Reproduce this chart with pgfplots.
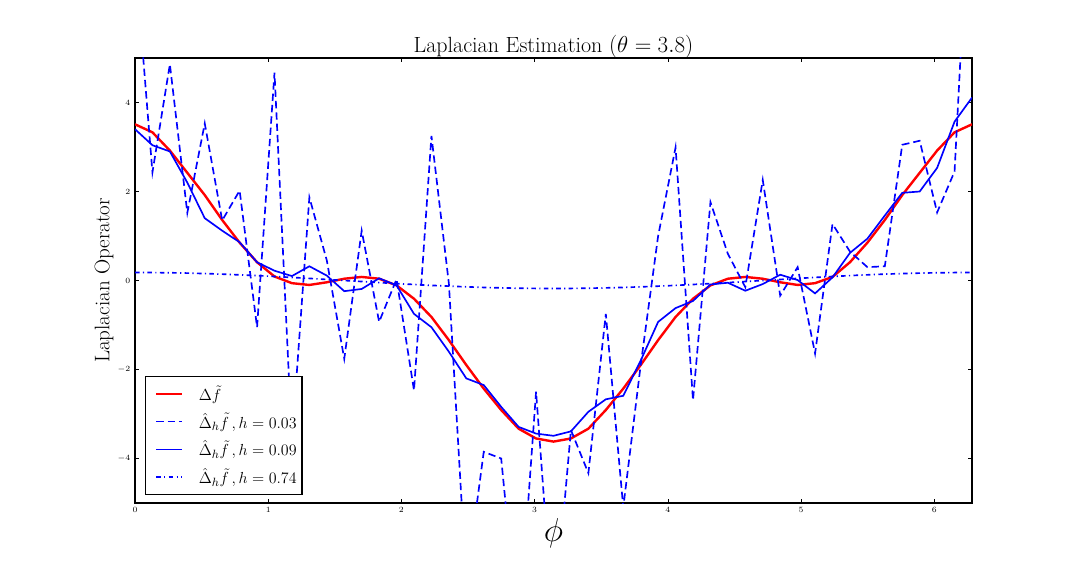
\documentclass[border=0pt]{standalone}
\usepackage{pgfplots}
\pgfplotsset{compat=1.18}
\usepackage{pgfplotstable}
\pgfplotstableread{
x r d s c
0.0000 3.51 7.3 3.40 0.180
0.1309 3.33 2.43 3.04 0.178
0.2618 2.92 4.86 2.90 0.174
0.3927 2.42 1.52 2.20 0.166
0.5236 1.92 3.53 1.40 0.156
0.6545 1.36 1.35 1.12 0.143
0.7854 0.85 2.02 0.86 0.127
0.9163 0.41 -1.05 0.41 0.110
1.0472 0.09 4.67 0.22 0.090
1.1781 -0.06 -3.6 0.10 0.069
1.3090 -0.10 1.87 0.32 0.047
1.4399 -0.04 0.45 0.11 0.023
1.5708 0.04 -1.76 -0.24 0.000
1.7017 0.08 1.12 -0.19 -0.023
1.8326 0.04 -0.93 0.05 -0.047
1.9635 -0.11 0.03 -0.11 -0.069
2.0944 -0.41 -2.47 -0.75 -0.090
2.2253 -0.82 3.25 -1.05 -0.110
2.3562 -1.34 -0.07 -1.60 -0.127
2.4871 -1.90 -6.8 -2.20 -0.143
2.6180 -2.43 -3.85 -2.35 -0.156
2.7489 -2.91 -4.00 -2.84 -0.166
2.8798 -3.33 -8.0 -3.29 -0.174
3.0107 -3.55 -2.50 -3.44 -0.178
3.1416 -3.62 -7.8 -3.49 -0.180
3.2725 -3.55 -3.36 -3.39 -0.178
3.4034 -3.33 -4.33 -2.95 -0.174
3.5343 -2.91 -0.75 -2.67 -0.166
3.6652 -2.43 -5.1 -2.59 -0.156
3.7961 -1.90 -1.9 -1.80 -0.143
3.9270 -1.34 1.00 -0.93 -0.127
4.0579 -0.82 2.99 -0.62 -0.110
4.1888 -0.41 -2.69 -0.46 -0.090
4.3197 -0.11 1.76 -0.09 -0.069
4.4506 0.04 0.60 -0.05 -0.047
4.5815 0.08 -0.15 -0.23 -0.023
4.7124 0.04 2.26 -0.08 0.000
4.8433 -0.04 -0.34 0.13 0.023
4.9742 -0.10 0.30 0.01 0.047
5.1051 -0.06 -1.64 -0.29 0.069
5.2360 0.08 1.27 0.07 0.090
5.3669 0.41 0.65 0.62 0.110
5.4978 0.85 0.30 0.94 0.127
5.6287 1.36 0.32 1.46 0.143
5.7596 1.92 3.05 1.97 0.156
5.8905 2.42 3.14 2.00 0.166
6.0214 2.92 1.53 2.53 0.174
6.1523 3.33 2.45 3.57 0.178
6.2832 3.51 10.0 4.11 0.180
}\data
\begin{document}
\begin{tikzpicture}
\path[use as bounding box] (0,0) rectangle (810pt,432pt);
\begin{axis}[
  at={(101.25pt,54.75pt)}, anchor=south west,
  scale only axis, width=627.75pt, height=333.75pt,
  xmin=0, xmax=6.2832, ymin=-5, ymax=5,
  xtick={0,1,2,3,4,5,6}, ytick={-4,-2,0,2,4},
  tick align=inside, major tick length=3pt,
  tick style={black, line width=0.5pt},
  ticklabel style={font=\fontsize{6.5}{7}\selectfont},
  axis line style={line width=0.8pt},
  title={Laplacian Estimation $(\theta=3.8)$},
  title style={font=\fontsize{16.5}{19}\selectfont, at={(axis description cs:0.5,1.012)}, anchor=base, yshift=-6pt},
  xlabel={$\phi$},
  xlabel style={font=\fontsize{23}{26}\selectfont, at={(axis description cs:0.5,-0.0674)}, anchor=center},
  ylabel={Laplacian Operator},
  ylabel style={font=\fontsize{15.8}{18}\selectfont, at={(axis description cs:-0.037,0.5)}, anchor=center},
  legend style={at={(axis description cs:0.012,0.018)}, anchor=south west,
    draw=black, line width=0.8pt, fill=white,
    font=\fontsize{13.2}{16}\selectfont, row sep=4pt,
    inner xsep=2pt, inner ysep=4.5pt,
    /tikz/every odd column/.append style={column sep=9.5pt}},
  legend cell align=left,
  legend image code/.code={\path[draw=none,fill=none] (0pt,0pt) -- (25.5pt,0pt); \draw[#1] (6pt,0pt) -- (25.5pt,0pt);},
]
\addplot[red, line width=1.8pt] table[x=x, y=r] {\data};
\addlegendentry{$\Delta\tilde{f}$}
\addplot[blue, line width=1.25pt, dash pattern=on 5.5pt off 3pt] table[x=x, y=d] {\data};
\addlegendentry{$\hat{\Delta}_h\tilde{f}\,, h=0.03$}
\addplot[blue, line width=1.25pt] table[x=x, y=s] {\data};
\addlegendentry{$\hat{\Delta}_h\tilde{f}\,, h=0.09$}
\addplot[blue, line width=1.25pt, dash pattern=on 3.4pt off 2.5pt on 0.9pt off 2.5pt] table[x=x, y=c] {\data};
\addlegendentry{$\hat{\Delta}_h\tilde{f}\,, h=0.74$}
\end{axis}
\end{tikzpicture}
\end{document}
